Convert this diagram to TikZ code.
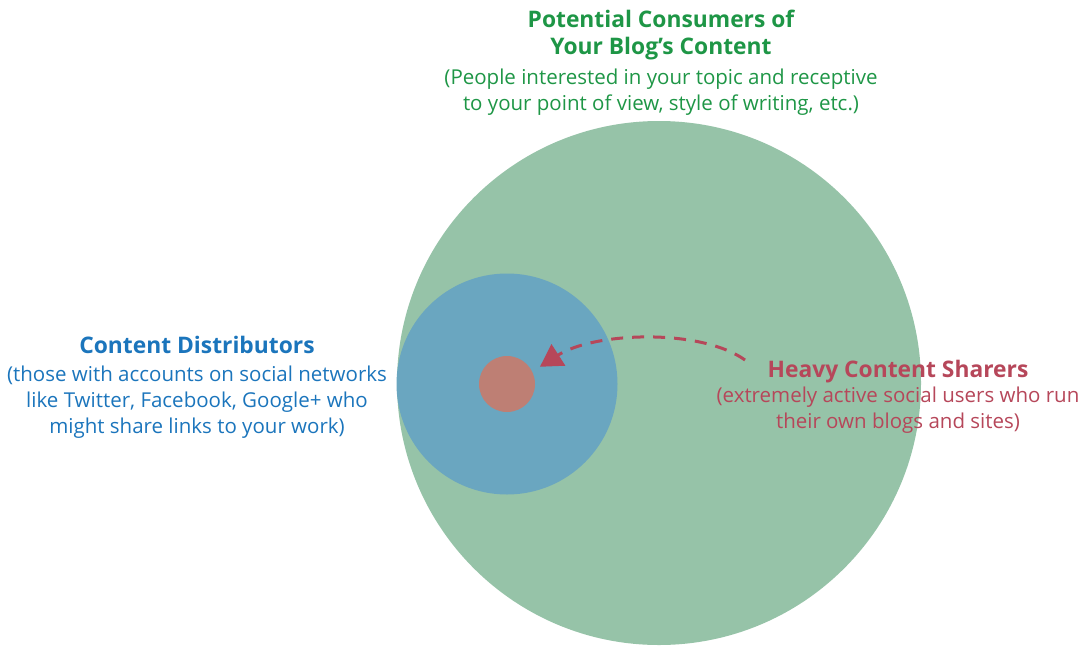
\documentclass[tikz,border=0pt]{standalone}
\usepackage{fontspec}
\setmainfont{Open Sans}
\usetikzlibrary{arrows.meta}
\definecolor{consgreen}{HTML}{96C3A8}
\definecolor{distblue}{HTML}{6AA6C0}
\definecolor{sharered}{HTML}{BE7F74}
\definecolor{txtgreen}{HTML}{1E9646}
\definecolor{txtblue}{HTML}{1B75BC}
\definecolor{txtred}{HTML}{B6475A}

\begin{document}
\begin{tikzpicture}[x=1pt, y=-1pt,
    zone/.style={circle, draw=none, fill=#1, inner sep=0pt},
    heading/.style={font=\fontsize{22.8}{27}\selectfont\bfseries, text=#1, align=center, inner sep=0pt, anchor=base},
    blurb/.style={font=\fontsize{20.5}{26}\selectfont, text=#1, align=center, inner sep=0pt, anchor=base},
    arrow/.style={-{Triangle[length=22pt, width=25pt]}, line width=3pt, dash pattern=on 12pt off 9pt, color=txtred}
]
\useasboundingbox (0,0) rectangle (1086,645);
\begin{scope}
\clip (0,0) rectangle (1086,645);
\node[zone=consgreen, minimum size=524pt] (consumers) at (659,383) {};
\end{scope}
\node[zone=distblue, minimum size=221pt] (distributors) at (507,384) {};
\node[zone=sharered, minimum size=56pt]  (sharers)      at (507,384) {};

% base anchor sits on the last line
\node[heading=txtgreen] (constitle) at (661,54)  {Potential Consumers of\\Your Blog’s Content};
\node[blurb=txtgreen]   (consnote)  at (661,110) {(People interested in your topic and receptive\\to your point of view, style of writing, etc.)};
\node[heading=txtblue]  (disttitle) at (197,353) {Content Distributors};
\node[blurb=txtblue]    (distnote)  at (197,433) {(those with accounts on social networks\\like Twitter, Facebook, Google+ who\\might share links to your work)};
\node[heading=txtred]   (sharetitle) at (898,377) {Heavy Content Sharers};
\node[blurb=txtred]     (sharenote)  at (898,428) {(extremely active social users who run\\their own blogs and sites)};

\coordinate (sharefrom) at (745,360);
\draw[arrow, shorten >=9pt] (sharefrom) .. controls (700,328) and (594,332) .. (sharers.26);
\end{tikzpicture}
\end{document}
